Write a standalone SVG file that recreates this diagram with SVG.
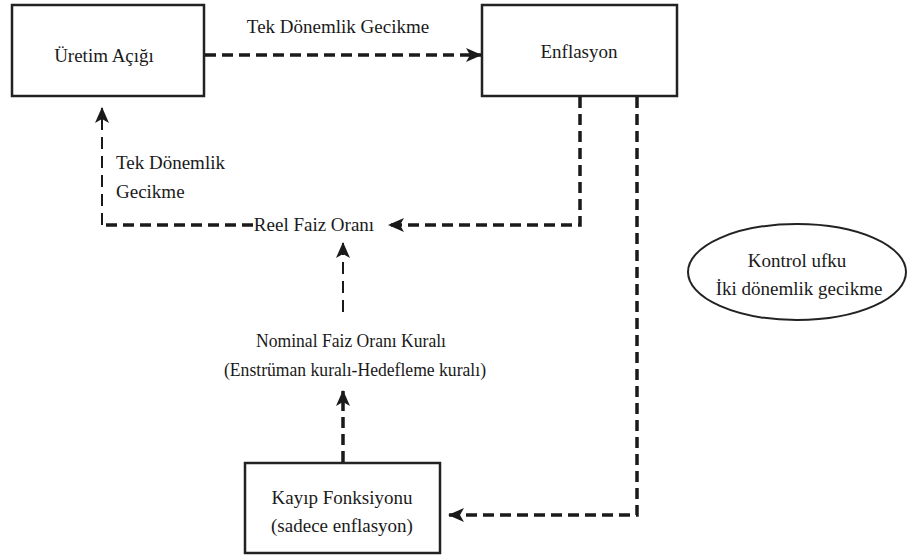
<svg xmlns="http://www.w3.org/2000/svg" width="908" height="556" viewBox="0 0 908 556">
<style>
text{font-family:"Liberation Serif","DejaVu Serif",serif;font-size:19px;fill:#1a1a1a}
.box{fill:#fff;stroke:#222;stroke-width:2.5}
.thick{fill:none;stroke:#1a1a1a;stroke-width:3.5;stroke-dasharray:11 6}
.thin{fill:none;stroke:#1a1a1a;stroke-width:2;stroke-dasharray:12 7}
</style>
<defs>
<marker id="ah" markerUnits="userSpaceOnUse" markerWidth="16" markerHeight="14" viewBox="0 0 16 14" refX="15" refY="7" orient="auto">
<path d="M0,0 L16,7 L0,14 L4,7 Z" fill="#1a1a1a"/>
</marker>
</defs>
<g id="uretim">
<rect class="box" x="12" y="5" width="192" height="91"/>
<text x="104" y="62" text-anchor="middle" font-family="Liberation Serif, serif">Üretim Açığı</text>
</g>
<g id="enflasyon">
<rect class="box" x="482" y="5" width="195" height="91"/>
<text x="579" y="58" text-anchor="middle" font-family="Liberation Serif, serif">Enflasyon</text>
</g>
<g id="reel">
<text x="314" y="231" text-anchor="middle" font-family="Liberation Serif, serif">Reel Faiz Oranı</text>
</g>
<g id="nominal">
<text x="351" y="347" text-anchor="middle" font-family="Liberation Serif, serif" textLength="190" lengthAdjust="spacingAndGlyphs">Nominal Faiz Oranı Kuralı</text>
<text x="355" y="376" text-anchor="middle" font-family="Liberation Serif, serif" textLength="262" lengthAdjust="spacingAndGlyphs">(Enstrüman kuralı-Hedefleme kuralı)</text>
</g>
<g id="kayip">
<rect class="box" x="245" y="463" width="195" height="90"/>
<text x="342" y="504" text-anchor="middle" font-family="Liberation Serif, serif">Kayıp Fonksiyonu</text>
<text x="342" y="532" text-anchor="middle" font-family="Liberation Serif, serif">(sadece enflasyon)</text>
</g>
<g id="kontrol">
<ellipse cx="797" cy="272" rx="109" ry="48" fill="#fff" stroke="#222" stroke-width="2"/>
<text x="797" y="267" text-anchor="middle" font-family="Liberation Serif, serif">Kontrol ufku</text>
<text x="799" y="295" text-anchor="middle" font-family="Liberation Serif, serif">İki dönemlik gecikme</text>
</g>
<g id="connectors">
<path class="thick" d="M205,55 H481" marker-end="url(#ah)"/>
<text x="338" y="33" text-anchor="middle" font-family="Liberation Serif, serif">Tek Dönemlik Gecikme</text>
<path class="thick" d="M580,97 V225 H389" marker-end="url(#ah)"/>
<path class="thick" d="M253,225 H102"/>
<path class="thin" d="M102,225 V108" marker-end="url(#ah)"/>
<text x="116" y="169" font-family="Liberation Serif, serif">Tek Dönemlik</text>
<text x="116" y="198" font-family="Liberation Serif, serif">Gecikme</text>
<path class="thin" d="M343,312 V243" marker-end="url(#ah)"/>
<path class="thick" d="M343,462 V391" marker-end="url(#ah)"/>
<path class="thick" d="M637,97 V515 H449" marker-end="url(#ah)"/>
</g>
</svg>
